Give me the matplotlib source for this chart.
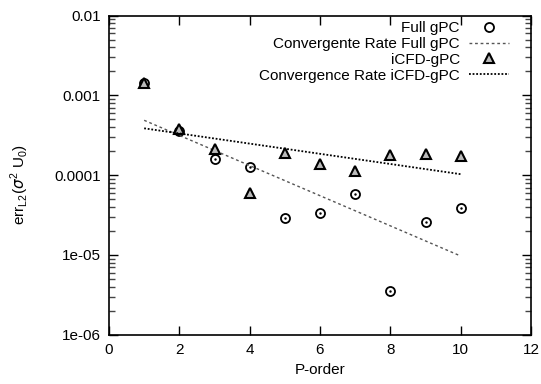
import matplotlib
matplotlib.use("Agg")
import matplotlib.pyplot as plt
from matplotlib.ticker import FixedLocator, FixedFormatter, LogLocator, NullFormatter

plt.rcParams['font.family'] = ['Liberation Sans', 'DejaVu Sans']

p_order = [1, 2, 3, 4, 5, 6, 7, 8, 9, 10]
err_full = [1.44e-3, 3.58e-4, 1.61e-4, 1.26e-4, 2.88e-5, 3.38e-5, 5.76e-5, 3.56e-6, 2.57e-5, 3.85e-5]
err_icfd = [1.45e-3, 3.83e-4, 2.15e-4, 5.93e-5, 1.90e-4, 1.37e-4, 1.13e-4, 1.81e-4, 1.84e-4, 1.74e-4]

# fitted convergence rates, evaluated at first and last order
rate_p = [1, 10]
rate_full = [4.88e-4, 9.7e-6]
rate_icfd = [3.87e-4, 1.03e-4]

yticks = [1e-6, 1e-5, 1e-4, 1e-3, 1e-2]
ytick_labels = ["1e-06", "1e-05", "0.0001", "0.001", "0.01"]

fs = 11

fig = plt.figure(figsize=(5.41, 3.84), dpi=100)
ax = fig.add_axes([109 / 541, 1 - 334.7 / 384, 422 / 541, 319 / 384])

ax.plot(p_order, err_full, linestyle="none", marker="o", markersize=6.5,
        markerfacecolor="white", markeredgecolor="black", markeredgewidth=1.3,
        label="Full gPC")
ax.plot(p_order, err_full, linestyle="none", marker=".", markersize=1.5, color="black")
ax.plot(rate_p, rate_full, color="#555555", linewidth=1.0, dashes=(2, 2),
        label="Convergente Rate Full gPC")
ax.plot(p_order, err_icfd, linestyle="none", marker="^", markersize=6.5,
        markerfacecolor="#bbbbbb", markeredgecolor="black", markeredgewidth=1.5,
        label="iCFD-gPC")
ax.plot(rate_p, rate_icfd, color="black", linewidth=1.3, dashes=(1, 1),
        label="Convergence Rate iCFD-gPC")

ax.set_yscale("log")
ax.set_xlim(0, 12)
ax.set_ylim(1e-6, 1e-2)
ax.set_xticks(range(0, 13, 2))
ax.yaxis.set_major_locator(FixedLocator(yticks))
ax.yaxis.set_major_formatter(FixedFormatter(ytick_labels))
ax.yaxis.set_minor_locator(LogLocator(base=10, subs=range(2, 10)))
ax.yaxis.set_minor_formatter(NullFormatter())

ax.tick_params(which="both", direction="in", top=True, right=True, labelsize=fs, width=1)
ax.tick_params(which="major", length=6.5, pad=6)
ax.tick_params(which="minor", length=4.5, color="#444444")
for s in ax.spines.values():
    s.set_linewidth(1.2)

ax.set_xlabel("P-order", fontsize=fs, labelpad=4)
ax.set_ylabel(r"err$_{\mathregular{L2}}$($\sigma^{\mathregular{2}}$ U$_{\mathregular{0}}$)",
              fontsize=fs)
ax.yaxis.set_label_coords(-0.185, 0.47)

leg = ax.legend(loc="upper right", bbox_to_anchor=(0.9597, 1.0), frameon=False,
                markerfirst=False, fontsize=fs, labelspacing=0.12, handlelength=2.6,
                handletextpad=0.6, borderaxespad=0.0, borderpad=0.35)
for col in leg._legend_box._children[-1]._children:
    col.align = "right"

fig.savefig("out.png", dpi=100)
